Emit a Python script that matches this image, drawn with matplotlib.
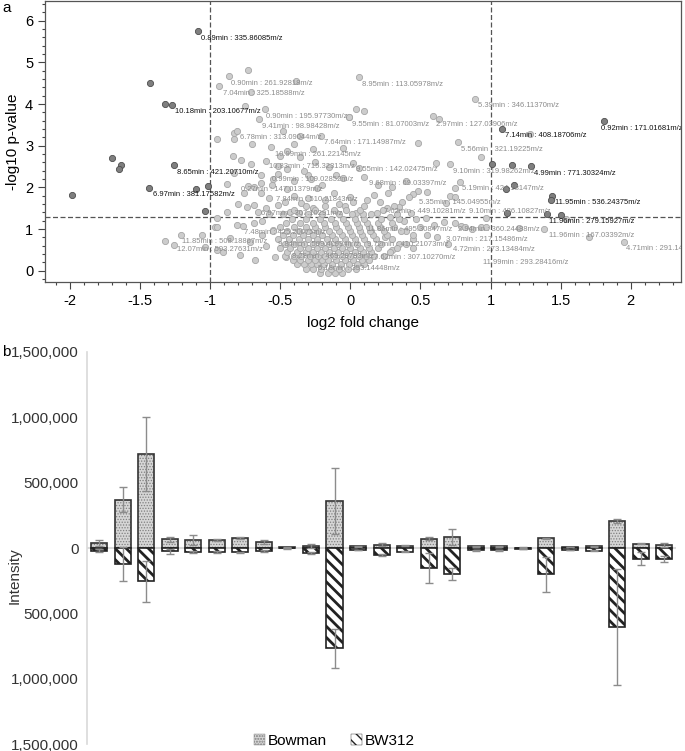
import numpy as np
import matplotlib
matplotlib.use("Agg")
import matplotlib.pyplot as plt
from matplotlib.ticker import MultipleLocator, FuncFormatter
from matplotlib.patches import Patch

plt.rcParams["font.family"] = ["Liberation Sans", "DejaVu Sans"]
plt.rcParams["axes.unicode_minus"] = False

# ---------------- volcano plot data (log2 FC, -log10 p) ----------------
upper_left_pts = [
    (-0.87, 4.68), (-0.73, 4.81), (-0.94, 4.44), (-0.39, 4.56), (-0.71, 4.29),
    (-0.75, 3.96), (-0.61, 3.89), (-0.65, 3.63), (-0.01, 3.68), (-0.83, 3.31),
    (-0.81, 3.36), (-0.95, 3.16), (-0.83, 3.17), (-0.36, 3.23), (-0.21, 3.23),
    (-0.57, 2.97), (-0.45, 2.88), (-0.27, 2.91), (-0.84, 2.75), (-0.78, 2.65),
    (-0.71, 2.56), (-0.60, 2.64), (-0.52, 2.51), (-0.64, 2.29), (-0.30, 2.29),
    (-0.36, 2.73), (-0.88, 2.08), (-0.83, 2.34), (-0.73, 2.03), (-0.69, 2.00),
    (-0.64, 2.10), (-0.64, 1.87), (-0.76, 1.87), (-0.56, 2.05), (-0.52, 2.32),
    (-0.58, 1.74), (-0.52, 1.58), (-0.43, 1.42), (-0.37, 1.38), (-0.35, 1.62),
    (-0.27, 1.50), (-0.24, 1.98), (-0.20, 2.06), (-0.12, 1.86), (-0.05, 2.22),
    (-0.80, 1.59), (-0.74, 1.52), (-0.69, 1.58), (-0.88, 1.42),
    (-0.45, 2.45), (-0.40, 2.15), (-0.33, 2.40), (-0.28, 2.20), (-0.45, 1.95),
    (-0.40, 1.80), (-0.30, 1.75), (-0.18, 1.70), (-0.10, 2.30), (-0.15, 2.50),
    (-0.08, 1.60), (-0.47, 1.65), (-0.60, 1.50), (-0.55, 2.20), (-0.25, 2.60),
    (-0.50, 2.75), (-0.05, 2.95), (-0.40, 3.05), (-0.48, 3.35), (-0.70, 3.05),
]
upper_right_pts = [
    (0.06, 4.64), (0.89, 4.13), (0.04, 3.89), (0.10, 3.84), (-0.01, 3.69),
    (0.59, 3.72), (0.63, 3.64), (1.28, 3.29), (0.48, 3.06), (0.77, 3.09),
    (0.93, 2.72), (0.61, 2.59), (0.71, 2.55), (0.02, 2.58), (0.06, 2.47),
    (0.78, 2.12), (0.75, 1.98), (0.71, 1.79), (0.75, 1.78), (0.68, 1.62),
    (0.55, 1.90), (0.48, 1.92), (0.45, 1.83), (0.42, 1.78), (0.37, 1.66),
    (0.27, 1.86), (0.17, 1.82), (0.21, 1.66), (0.26, 1.50), (0.35, 1.54),
    (0.12, 1.70), (0.00, 1.78), (0.02, 1.66), (-0.04, 1.55), (0.30, 2.00),
    (0.40, 2.15), (0.20, 2.05), (0.10, 2.25),
]
lower_right_pts = [
    (0.04, 1.39), (0.19, 1.38), (0.28, 1.30), (0.43, 1.39), (0.54, 1.26),
    (0.67, 1.18), (0.75, 1.14), (0.79, 1.07), (0.82, 1.04), (0.87, 0.99),
    (0.93, 1.06), (0.97, 1.04), (0.97, 1.26), (1.20, 1.02), (1.38, 0.99),
    (1.70, 0.82), (1.95, 0.70), (1.54, 1.24), (0.60, 1.10), (0.50, 1.05),
    (0.40, 0.95), (0.55, 0.85), (0.45, 0.75), (0.62, 0.80), (0.70, 0.65),
    (0.35, 0.65), (0.30, 0.50), (0.45, 0.55), (0.25, 0.80), (0.38, 1.20),
    (0.15, 0.95),
]
lower_left_pts = [
    (-1.32, 0.71), (-1.26, 0.62), (-1.21, 0.86), (-1.04, 0.56), (-1.06, 0.85),
    (-0.97, 1.04), (-0.95, 1.05), (-0.95, 1.26), (-0.81, 1.10), (-0.77, 1.07),
    (-0.86, 0.79), (-0.68, 0.26), (-0.54, 0.32), (-0.46, 0.34), (-0.44, 0.75),
    (-0.55, 0.98), (-0.69, 1.14), (-0.63, 1.19), (-0.63, 0.86), (-0.60, 0.60),
    (-0.72, 0.70), (-0.58, 1.35), (-0.66, 1.40), (-0.95, 0.50), (-0.91, 0.46),
    (-0.79, 0.38),
]
cluster_pts = [
    (-0.22, -0.05), (-0.16, -0.05), (-0.11, -0.05), (-0.06, -0.05),
    (-0.32, 0.05), (-0.27, 0.05), (-0.21, 0.05), (-0.14, 0.05), (-0.08, 0.05), (-0.02, 0.05), (0.04, 0.05),
    (-0.38, 0.15), (-0.33, 0.15), (-0.28, 0.15), (-0.24, 0.15), (-0.19, 0.15), (-0.13, 0.15),
    (-0.07, 0.15), (-0.01, 0.15), (0.05, 0.15), (0.10, 0.15),
    (-0.41, 0.25), (-0.36, 0.25), (-0.30, 0.25), (-0.25, 0.25), (-0.20, 0.25), (-0.16, 0.25),
    (-0.10, 0.25), (-0.04, 0.25), (0.02, 0.25), (0.08, 0.25), (0.13, 0.25),
    (-0.47, 0.35), (-0.40, 0.35), (-0.35, 0.35), (-0.29, 0.35), (-0.23, 0.35), (-0.18, 0.35),
    (-0.12, 0.35), (-0.06, 0.35), (0.00, 0.35), (0.06, 0.35), (0.11, 0.35), (0.17, 0.35), (0.24, 0.35),
    (-0.45, 0.45), (-0.38, 0.45), (-0.32, 0.45), (-0.27, 0.45), (-0.21, 0.45), (-0.15, 0.45),
    (-0.09, 0.45), (-0.03, 0.45), (0.03, 0.45), (0.09, 0.45), (0.15, 0.45), (0.28, 0.45),
    (-0.50, 0.55), (-0.43, 0.55), (-0.36, 0.55), (-0.30, 0.55), (-0.24, 0.55), (-0.18, 0.55),
    (-0.12, 0.55), (-0.06, 0.55), (0.00, 0.55), (0.07, 0.55), (0.13, 0.55), (0.20, 0.55), (0.33, 0.55),
    (-0.47, 0.65), (-0.40, 0.65), (-0.33, 0.65), (-0.27, 0.65), (-0.21, 0.65), (-0.15, 0.65),
    (-0.09, 0.65), (-0.02, 0.65), (0.05, 0.65), (0.12, 0.65), (0.22, 0.65), (0.40, 0.65),
    (-0.52, 0.75), (-0.44, 0.75), (-0.37, 0.75), (-0.30, 0.75), (-0.24, 0.75), (-0.17, 0.75),
    (-0.11, 0.75), (-0.04, 0.75), (0.03, 0.75), (0.10, 0.75), (0.18, 0.75), (0.30, 0.75),
    (-0.48, 0.85), (-0.41, 0.85), (-0.34, 0.85), (-0.27, 0.85), (-0.20, 0.85), (-0.13, 0.85),
    (-0.06, 0.85), (0.01, 0.85), (0.08, 0.85), (0.16, 0.85), (0.26, 0.85), (0.45, 0.85),
    (-0.55, 0.95), (-0.45, 0.95), (-0.37, 0.95), (-0.30, 0.95), (-0.23, 0.95), (-0.15, 0.95),
    (-0.08, 0.95), (0.00, 0.95), (0.07, 0.95), (0.14, 0.95), (0.24, 0.95), (0.36, 0.95),
    (-0.50, 1.05), (-0.40, 1.05), (-0.32, 1.05), (-0.25, 1.05), (-0.18, 1.05), (-0.10, 1.05),
    (-0.02, 1.05), (0.06, 1.05), (0.13, 1.05), (0.21, 1.05), (0.31, 1.05),
    (-0.46, 1.15), (-0.36, 1.15), (-0.27, 1.15), (-0.19, 1.15), (-0.11, 1.15), (-0.03, 1.15),
    (0.05, 1.15), (0.12, 1.15), (0.20, 1.15), (0.30, 1.15),
    (-0.42, 1.25), (-0.32, 1.25), (-0.22, 1.25), (-0.14, 1.25), (-0.05, 1.25), (0.03, 1.25),
    (0.10, 1.25), (0.22, 1.25), (0.35, 1.25), (0.47, 1.25),
    (-0.48, 1.35), (-0.30, 1.35), (-0.20, 1.35), (-0.08, 1.35), (0.01, 1.35), (0.09, 1.35),
    (0.15, 1.35), (0.33, 1.35),
    (-0.40, 1.45), (-0.25, 1.45), (-0.12, 1.45), (-0.03, 1.45), (0.07, 1.45), (0.23, 1.45),
    (-0.32, 1.55), (-0.18, 1.55), (0.10, 1.55), (0.31, 1.55),
]
sig_pts = [
    (-1.09, 5.75), (-1.43, 4.51), (-1.32, 4.00), (-1.27, 3.97), (-1.70, 2.71),
    (-1.64, 2.53), (-1.65, 2.45), (-1.26, 2.53), (-1.44, 1.98), (-1.10, 1.96),
    (-1.02, 2.03), (-1.99, 1.82), (-1.04, 1.44), (1.81, 3.59), (1.08, 3.41),
    (1.01, 2.56), (1.15, 2.53), (1.29, 2.52), (1.17, 2.06), (1.11, 1.95),
    (1.44, 1.80), (1.43, 1.70), (1.40, 1.35), (1.50, 1.34), (1.12, 1.38),
]

dark_labels = [
    ("0.89min : 335.86085m/z", -1.07, 5.57),
    ("10.18min : 203.10677m/z", -1.25, 3.83),
    ("8.65min : 421.20710m/z", -1.24, 2.36),
    ("6.97min : 381.17582m/z", -1.41, 1.82),
    ("0.92min : 171.01681m/z", 1.79, 3.41),
    ("7.14min : 408.18706m/z", 1.10, 3.24),
    ("4.99min : 771.30324m/z", 1.31, 2.34),
    ("11.95min : 536.24375m/z", 1.46, 1.63),
    ("11.96min : 279.15927m/z", 1.42, 1.19),
]
gray_labels = [
    ("0.90min : 261.92818m/z", -0.85, 4.49),
    ("7.04min : 325.18588m/z", -0.91, 4.25),
    ("0.90min : 195.97730m/z", -0.60, 3.71),
    ("9.41min : 98.98428m/z", -0.63, 3.45),
    ("6.78min : 313.09044m/z", -0.79, 3.19),
    ("7.64min : 171.14987m/z", -0.19, 3.07),
    ("10.99min : 261.22145m/z", -0.54, 2.80),
    ("10.83min : 715.32313m/z", -0.58, 2.49),
    ("0.99min : 109.02852m/z", -0.56, 2.19),
    ("0.27min : 147.01379m/z", -0.78, 1.94),
    ("7.84min : 510.21843m/z", -0.53, 1.72),
    ("6.97min : 307.10291m/z", -0.64, 1.37),
    ("7.48min : 425.20075m/z", -0.76, 0.92),
    ("11.85min : 508.18867m/z", -1.20, 0.70),
    ("12.07min : 593.27631m/z", -1.24, 0.50),
    ("9.84min : 599.40994m/z", -0.52, 0.62),
    ("8.28min : 469.29783m/z", -0.42, 0.35),
    ("5.18min : 353.14448m/z", -0.23, 0.06),
    ("9.55min : 81.07003m/z", 0.01, 3.52),
    ("8.95min : 113.05978m/z", 0.08, 4.47),
    ("5.39min : 346.11370m/z", 0.91, 3.96),
    ("2.97min : 127.03906m/z", 0.61, 3.52),
    ("5.56min : 321.19225m/z", 0.79, 2.92),
    ("9.55min : 142.02475m/z", 0.04, 2.43),
    ("9.10min : 319.98262m/z", 0.73, 2.39),
    ("9.68min : 69.03397m/z", 0.13, 2.10),
    ("5.19min : 424.18147m/z", 0.80, 1.98),
    ("5.35min : 145.04955m/z", 0.49, 1.64),
    ("7.62min : 449.10281m/z", 0.24, 1.42),
    ("9.10min : 486.10827m/z", 0.85, 1.42),
    ("11.86min : 495.30847m/z", 0.12, 0.99),
    ("2.94min : 360.24488m/z", 0.77, 0.98),
    ("9.72min : 410.21073m/z", 0.12, 0.63),
    ("3.07min : 217.15486m/z", 0.68, 0.74),
    ("4.72min : 273.13484m/z", 0.73, 0.50),
    ("7.62min : 307.10270m/z", 0.17, 0.31),
    ("11.99min : 293.28416m/z", 0.95, 0.19),
    ("11.96min : 167.03392m/z", 1.42, 0.84),
    ("4.71min : 291.14542m/z", 1.97, 0.54),
]

# ---------------- intensity bar data ----------------
bowman = [40000, 369000, 720000, 66000, 61000, 61000, 76000, 46000, 5000, 15000,
          359000, 12000, 25000, 18000, 71000, 84000, 12000, 12000, 3000, 73000,
          8000, 12000, 206000, 31000, 25000]
bowman_err = [23000, 97000, 280000, 18000, 35000, 5000, 10000, 12000, 3000, 13000,
              255000, 3000, 10000, 5000, 10000, 63000, 3000, 3000, 1000, 6000,
              3000, 3000, 18000, 4000, 15000]
bw312 = [20000, 123000, 256000, 26000, 33000, 28000, 33000, 23000, 3000, 38000,
         769000, 15000, 51000, 28000, 151000, 197000, 18000, 18000, 5000, 200000,
         15000, 20000, 605000, 82000, 85000]
bw312_err = [13000, 128000, 157000, 18000, 8000, 8000, 6000, 8000, 2000, 8000,
             149000, 3000, 8000, 5000, 113000, 47000, 3000, 3000, 1000, 133000,
             2000, 3000, 441000, 49000, 20000]

fig = plt.figure(figsize=(6.85, 7.51), dpi=100)

# ================= a: volcano =================
ax1 = fig.add_axes([0.0657, 0.6245, 0.9285, 0.374])

light = upper_left_pts + upper_right_pts + lower_right_pts + lower_left_pts + cluster_pts
lx, ly = zip(*light)
ax1.scatter(lx, ly, s=20, facecolor="#cccccc", edgecolor="#a6a6a6", linewidth=0.6, zorder=2)
sx, sy = zip(*sig_pts)
ax1.scatter(sx, sy, s=20, facecolor="#7f7f7f", edgecolor="#4d4d4d", linewidth=0.6, zorder=3)

ax1.axhline(-np.log10(0.05), color="#555555", linestyle=(0, (4, 2)), linewidth=0.9, zorder=1)
for v in (-1, 1):
    ax1.axvline(v, color="#555555", linestyle=(0, (4, 2)), linewidth=0.9, zorder=1)

for txt, x, y in gray_labels:
    ax1.text(x, y, txt, fontsize=5.5, color="#8c8c8c", ha="left", va="center",
             zorder=4, clip_on=True)
for txt, x, y in dark_labels:
    ax1.text(x, y, txt, fontsize=5.5, color="#111111", ha="left", va="center",
             zorder=5, clip_on=True)

ax1.set_xlim(-2.18, 2.36)
ax1.set_ylim(-0.27, 6.47)
ax1.xaxis.set_major_locator(MultipleLocator(0.5))
ax1.xaxis.set_minor_locator(MultipleLocator(0.1))
ax1.yaxis.set_major_locator(MultipleLocator(1))
ax1.yaxis.set_minor_locator(MultipleLocator(0.2))
ax1.xaxis.set_major_formatter(FuncFormatter(lambda v, p: f"{v:g}"))
ax1.tick_params(which="major", length=5, width=0.8, color="#444444", labelsize=10.5)
ax1.tick_params(which="minor", length=2.5, width=0.8, color="#444444")
for sp in ax1.spines.values():
    sp.set_color("#555555")
    sp.set_linewidth(0.9)
ax1.set_xlabel("log2 fold change", fontsize=11, labelpad=6)
ax1.set_ylabel("-log10 p-value", fontsize=11)
ax1.yaxis.set_label_coords(-0.040, 0.5)

# ================= b: intensity bars =================
ax2 = fig.add_axes([0.1273, 0.0093, 0.8596, 0.522])
xs = np.arange(len(bowman))
w = 0.68
ax2.axhline(0, color="#d9d9d9", linewidth=1.5, zorder=0.5)

with plt.rc_context({"hatch.linewidth": 0.6}):
    ax2.bar(xs, bowman, width=w, color="#d6d6d6", edgecolor="#808080", hatch="......",
            linewidth=0, zorder=2)
ax2.bar(xs, bowman, width=w, color="none", edgecolor="#333333", linewidth=1.2, zorder=3)
with plt.rc_context({"hatch.linewidth": 2.0}):
    ax2.bar(xs, [-v for v in bw312], width=w, color="white", edgecolor="#222222",
            hatch="\\\\\\", linewidth=1.2, zorder=3)

ax2.errorbar(xs, bowman, yerr=bowman_err, fmt="none", ecolor="#8c8c8c",
             elinewidth=1, capsize=3, capthick=1, zorder=4)
ax2.errorbar(xs, [-v for v in bw312], yerr=bw312_err, fmt="none", ecolor="#8c8c8c",
             elinewidth=1, capsize=3, capthick=1, zorder=4)

ax2.set_xlim(-0.5, len(bowman) - 0.5)
ax2.set_ylim(-1500000, 1500000)
ax2.set_yticks(np.arange(-1500000, 1500001, 500000))
ax2.yaxis.set_major_formatter(FuncFormatter(lambda v, p: f"{abs(v):,.0f}"))
ax2.set_xticks([])
ax2.tick_params(axis="y", length=0, pad=6, labelsize=11, colors="#333333")
for side in ("top", "right", "bottom"):
    ax2.spines[side].set_visible(False)
ax2.spines["left"].set_color("#d9d9d9")
ax2.spines["left"].set_linewidth(1.2)
ax2.set_ylabel("Intensity", fontsize=11, color="#333333")
ax2.yaxis.set_label_coords(-0.112, 0.43)

with plt.rc_context({"hatch.linewidth": 0.6}):
    h_bow = Patch(facecolor="#d6d6d6", edgecolor="#808080", hatch="......", linewidth=0.3)
with plt.rc_context({"hatch.linewidth": 1.5}):
    h_bw = Patch(facecolor="white", edgecolor="#222222", hatch="\\\\\\", linewidth=0.3)
ax2.legend([h_bow, h_bw], ["Bowman", "BW312"], loc="lower center",
           bbox_to_anchor=(0.42, -0.045), ncol=2, frameon=False, fontsize=11,
           handlelength=0.7, handleheight=0.7, handletextpad=0.2, columnspacing=1.6)

fig.text(0.003, 0.989, "a", fontsize=11, va="center")
fig.text(0.003, 0.531, "b", fontsize=11, va="center")

fig.savefig("out.png", dpi=100)
